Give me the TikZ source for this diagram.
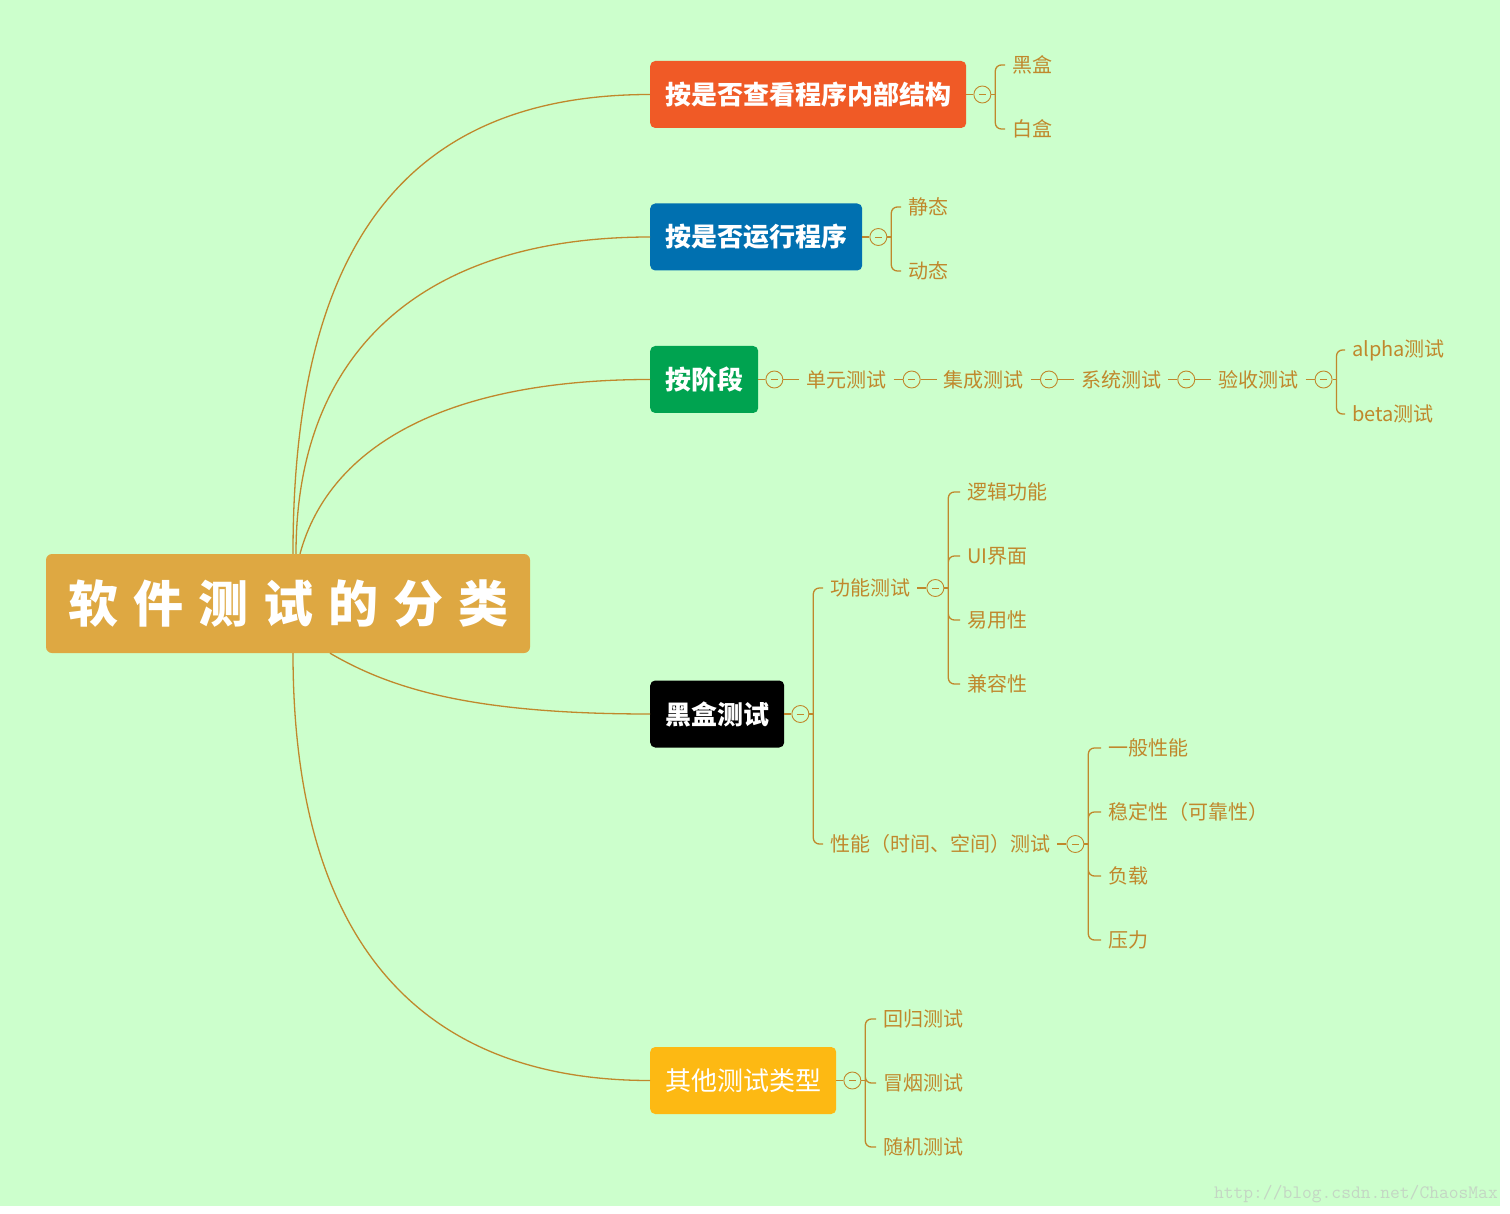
\documentclass[tikz,border=0pt]{standalone}
\usepackage{fontspec}
\newfontfamily\cjk{Noto Sans CJK SC}
\usetikzlibrary{positioning}

\definecolor{bggreen}{RGB}{204,255,204}
\definecolor{twig}{RGB}{192,136,44}
\definecolor{rootgold}{RGB}{222,168,66}
\definecolor{redbox}{RGB}{240,90,38}
\definecolor{bluebox}{RGB}{0,112,176}
\definecolor{greenbox}{RGB}{0,163,80}
\definecolor{yellowbox}{RGB}{253,185,19}
\definecolor{watermark}{RGB}{196,214,196}

\tikzset{
  link/.style={draw=twig,line width=1.3pt},
  topic/.style={rounded corners=5pt,text=white,anchor=west,minimum height=67pt,
    inner xsep=15pt,font=\cjk\bfseries\fontsize{26}{30}\selectfont},
  fold/.style={circle,draw=twig,fill=bggreen,line width=0.9pt,minimum size=17pt,
    inner sep=0pt,path picture={\draw[twig,line width=0.9pt]
      ([xshift=-3.5pt]path picture bounding box.center) --
      ([xshift=3.5pt]path picture bounding box.center);}},
  leaf/.style={text=twig,anchor=west,inner xsep=7pt,inner ysep=2pt,
    font=\cjk\fontsize{20}{24}\selectfont},
}

\begin{document}
\begin{tikzpicture}[x=1pt,y=-1pt]
  \fill[white] (0,0) rectangle (1510,1214);
  \fill[bggreen] (0,0) rectangle (1500,1206);
  \useasboundingbox (0,0) rectangle (1510,1214);

  % root and main branches
  \node[fill=rootgold,rounded corners=6pt,minimum width=484pt,minimum height=99pt,
    text=white,font=\cjk\bfseries\fontsize{50}{54}\selectfont] (root) at (288,603.5)
    {软\kern15pt件\kern15pt测\kern15pt试\kern15pt的\kern15pt分\kern15pt类};
  \node[topic,fill=redbox] (struct) at (650,94.5) {按是否查看程序内部结构};
  \node[topic,fill=bluebox] (run) at (650,237) {按是否运行程序};
  \node[topic,fill=greenbox] (stage) at (650,379.5) {按阶段};
  \node[topic,fill=black] (black) at (650,714) {黑盒测试};
  \node[topic,fill=yellowbox,font=\cjk\fontsize{26}{30}\selectfont] (other)
    at (650,1080.5) {其他测试类型};

  \draw[link] ([xshift=5pt]root.north) .. controls +(0,-300) and +(-250,0) .. (struct.west);
  \draw[link] ([xshift=8pt]root.north) .. controls +(0,-200) and +(-230,0) .. (run.west);
  \draw[link] ([xshift=12pt]root.north) .. controls +(30,-110) and +(-200,0) .. (stage.west);
  \draw[link] ([xshift=42pt]root.south) .. controls +(60,35) and +(-180,0) .. (black.west);
  \draw[link] ([xshift=5pt]root.south) .. controls +(0,300) and +(-220,0) .. (other.west);

  % white / black box
  \node[fold,right=7pt of struct] (fstruct) {};
  \node[leaf] (bbox) at (1005,65) {黑盒};
  \node[leaf] (wbox) at (1005,129) {白盒};
  \draw[link] (struct) -- (fstruct);
  \draw[link] (fstruct.east) -- ++(4,0) coordinate (sstruct);
  \draw[link,rounded corners=6pt] (sstruct) |- (bbox.west) (sstruct) |- (wbox.west);

  % static / dynamic
  \node[fold,right=7pt of run] (frun) {};
  \node[leaf] (static) at (901,207) {静态};
  \node[leaf] (dynamic) at (901,271) {动态};
  \draw[link] (run) -- (frun);
  \draw[link] (frun.east) -- ++(4,0) coordinate (srun);
  \draw[link,rounded corners=6pt] (srun) |- (static.west) (srun) |- (dynamic.west);

  % stages
  \node[fold,right=7pt of stage] (fstage) {};
  \node[leaf,right=16pt of fstage] (unit) {单元测试};
  \node[fold,right=9pt of unit] (funit) {};
  \node[leaf,right=16pt of funit] (integ) {集成测试};
  \node[fold,right=9pt of integ] (finteg) {};
  \node[leaf,right=16pt of finteg] (system) {系统测试};
  \node[fold,right=9pt of system] (fsystem) {};
  \node[leaf,right=16pt of fsystem] (accept) {验收测试};
  \node[fold,right=9pt of accept] (faccept) {};
  \node[leaf] (alpha) at (1345,350) {alpha测试};
  \node[leaf] (beta) at (1345,414) {beta测试};
  \draw[link] (stage) -- (fstage) -- (unit) -- (funit) -- (integ) -- (finteg)
    -- (system) -- (fsystem) -- (accept) -- (faccept);
  \draw[link] (faccept.east) -- ++(4,0) coordinate (saccept);
  \draw[link,rounded corners=6pt] (saccept) |- (alpha.west) (saccept) |- (beta.west);

  % black box testing
  \node[fold,right=7pt of black] (fblack) {};
  \node[leaf] (func) at (823,588) {功能测试};
  \node[leaf] (perf) at (823,844) {性能（时间、空间）测试};
  \draw[link] (black) -- (fblack);
  \draw[link] (fblack.east) -- ++(4,0) coordinate (sblack);
  \draw[link,rounded corners=6pt] (sblack) |- (func.west) (sblack) |- (perf.west);

  \node[fold,right=9pt of func] (ffunc) {};
  \node[leaf] (logic) at (960,492) {逻辑功能};
  \node[leaf] (ui) at (960,556) {UI界面};
  \node[leaf] (usable) at (960,620) {易用性};
  \node[leaf] (compat) at (960,684) {兼容性};
  \draw[link] (func) -- (ffunc);
  \draw[link] (ffunc.east) -- ++(4,0) coordinate (sfunc);
  \draw[link,rounded corners=6pt] (sfunc) |- (logic.west) (sfunc) |- (ui.west)
    (sfunc) |- (usable.west) (sfunc) |- (compat.west);

  \node[fold,right=9pt of perf] (fperf) {};
  \node[leaf] (general) at (1101,748) {一般性能};
  \node[leaf] (stable) at (1101,812) {稳定性（可靠性）};
  \node[leaf] (load) at (1101,876) {负载};
  \node[leaf] (stress) at (1101,940) {压力};
  \draw[link] (perf) -- (fperf);
  \draw[link] (fperf.east) -- ++(4,0) coordinate (sperf);
  \draw[link,rounded corners=6pt] (sperf) |- (general.west) (sperf) |- (stable.west)
    (sperf) |- (load.west) (sperf) |- (stress.west);

  % other kinds
  \node[fold,right=7pt of other] (fother) {};
  \node[leaf] (regress) at (876,1019) {回归测试};
  \node[leaf] (smoke) at (876,1083) {冒烟测试};
  \node[leaf] (random) at (876,1147) {随机测试};
  \draw[link] (other) -- (fother);
  \draw[link] (fother.east) -- ++(4,0) coordinate (sother);
  \draw[link,rounded corners=6pt] (sother) |- (regress.west) (sother) |- (smoke.west)
    (sother) |- (random.west);

  \node[anchor=east,inner sep=0pt,text=watermark,font=\ttfamily\fontsize{19}{20}\selectfont]
    (mark) at (1498,1194) {http://blog.csdn.net/ChaosMax};
\end{tikzpicture}
\end{document}
